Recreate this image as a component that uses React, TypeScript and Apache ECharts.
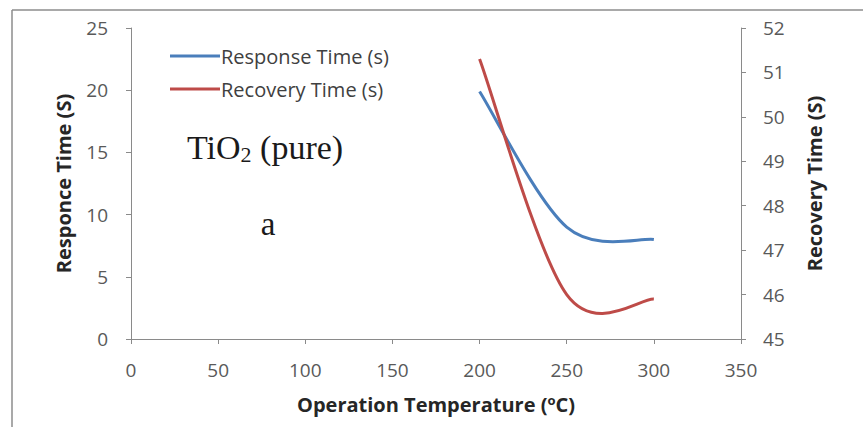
import React, { useEffect, useRef } from "react";
import * as echarts from "echarts";

// Operating temperatures (°C)
const temperatures = [200, 250, 300];
// Response time (s), left axis
const responseTime = [19.9, 9.0, 8.0];
// Recovery time (s), right axis
const recoveryTime = [51.3, 46.0, 45.9];

const responseName = "Response Time (s)";
const recoveryName = "Recovery Time (s)";

const BLUE = "#4a7ebb";
const RED = "#be4b48";
const AXIS_GRAY = "#8a8a8a";
const LABEL_GRAY = "#595959";
const FONT = "'Open Sans', 'Noto Sans', sans-serif";
const SERIF = "'Liberation Serif', 'DejaVu Serif', serif";

// Spreadsheet-style smoothed line: cubic Bézier segments whose control
// points follow the neighbouring points (Catmull-Rom with tension 1/6).
function smoothPathData(pts: number[][]): string {
  const k = 1 / 6;
  const n = pts.length;
  let d = `M${pts[0][0]},${pts[0][1]}`;
  for (let i = 0; i < n - 1; i++) {
    const p0 = pts[Math.max(i - 1, 0)];
    const p1 = pts[i];
    const p2 = pts[i + 1];
    const p3 = pts[Math.min(i + 2, n - 1)];
    const c1x = p1[0] + (p2[0] - p0[0]) * k;
    const c1y = p1[1] + (p2[1] - p0[1]) * k;
    const c2x = p2[0] - (p3[0] - p1[0]) * k;
    const c2y = p2[1] - (p3[1] - p1[1]) * k;
    d += ` C${c1x},${c1y} ${c2x},${c2y} ${p2[0]},${p2[1]}`;
  }
  return d;
}

function smoothSeries(name: string, values: number[], yAxisIndex: number, color: string) {
  const data = temperatures.map((t, i) => [t, values[i]]);
  return {
    name,
    type: "custom",
    yAxisIndex,
    itemStyle: { color },
    data,
    renderItem: (params: any, api: any) => {
      if (params.dataIndex !== 0) return null;
      const pts = data.map((p) => api.coord(p));
      return {
        type: "path",
        shape: { pathData: smoothPathData(pts) },
        style: { fill: "none", stroke: color, lineWidth: 3 },
      };
    },
  };
}

export default function App() {
  const ref = useRef<HTMLDivElement>(null);

  useEffect(() => {
    if (!ref.current) return;
    const chart = echarts.init(ref.current, undefined, { renderer: "svg" });

    const axisCommon = {
      splitLine: { show: false },
      axisLine: { show: true, lineStyle: { color: AXIS_GRAY, width: 1 } },
      axisTick: { show: true, length: 5, lineStyle: { color: AXIS_GRAY } },
      axisLabel: { color: LABEL_GRAY, fontSize: 19, fontFamily: FONT },
      nameTextStyle: {
        color: "#262626",
        fontSize: 20,
        fontWeight: "bold" as const,
        fontFamily: FONT,
      },
    };

    chart.setOption({
      animation: false,
      backgroundColor: "#ffffff",
      grid: { left: 131, right: 122, top: 28, bottom: 88, containLabel: false },
      legend: {
        orient: "vertical",
        left: 165,
        top: 41,
        itemWidth: 50,
        itemHeight: 3,
        itemGap: 13,
        icon: "rect",
        textStyle: {
          color: "#404040",
          fontSize: 20,
          fontFamily: FONT,
          padding: [0, 0, 0, -4],
        },
        data: [
          { name: responseName, itemStyle: { color: BLUE } },
          { name: recoveryName, itemStyle: { color: RED } },
        ],
      },
      xAxis: {
        type: "value",
        min: 0,
        max: 350,
        interval: 50,
        ...axisCommon,
        axisLabel: { ...axisCommon.axisLabel, margin: 21 },
        name: "{t|Operation Temperature (}{s|o}{t|C)}",
        nameLocation: "middle",
        nameGap: 54,
        nameTextStyle: {
          ...axisCommon.nameTextStyle,
          rich: {
            t: { fontSize: 20, fontWeight: "bold", fontFamily: FONT, color: "#262626" },
            s: {
              fontSize: 13,
              fontWeight: "bold",
              fontFamily: FONT,
              color: "#262626",
              padding: [0, 0, 10, 0],
            },
          },
        },
      },
      yAxis: [
        {
          type: "value",
          position: "left",
          min: 0,
          max: 25,
          interval: 5,
          ...axisCommon,
          axisLabel: { ...axisCommon.axisLabel, margin: 23 },
          name: "Responce Time (S)",
          nameLocation: "middle",
          nameGap: 58,
          nameRotate: 90,
        },
        {
          type: "value",
          position: "right",
          min: 45,
          max: 52,
          interval: 1,
          ...axisCommon,
          axisLabel: { ...axisCommon.axisLabel, margin: 22 },
          name: "Recovery Time (S)",
          nameLocation: "middle",
          nameGap: 63,
          nameRotate: 90,
        },
      ],
      series: [
        smoothSeries(responseName, responseTime, 0, BLUE),
        smoothSeries(recoveryName, recoveryTime, 1, RED),
      ],
      graphic: [
        {
          type: "line",
          shape: { x1: 12, y1: 10, x2: 863, y2: 10 },
          style: { stroke: "#8c8c8c", lineWidth: 1.5 },
        },
        {
          type: "line",
          shape: { x1: 12, y1: 10, x2: 12, y2: 427 },
          style: { stroke: "#8c8c8c", lineWidth: 1.5 },
        },
        {
          type: "text",
          x: 187,
          y: 147,
          style: {
            text: "{a|TiO}{b|2}{a| (pure)}",
            verticalAlign: "middle",
            rich: {
              a: { fontSize: 34, fontFamily: SERIF, fill: "#1a1a1a" },
              b: {
                fontSize: 22,
                fontFamily: SERIF,
                fill: "#1a1a1a",
                padding: [14, 0, 0, 0],
              },
            },
          },
        },
        {
          type: "text",
          x: 268,
          y: 224,
          style: {
            text: "a",
            align: "center",
            verticalAlign: "middle",
            fontSize: 33,
            fontFamily: SERIF,
            fill: "#1a1a1a",
          },
        },
      ],
    });

    return () => chart.dispose();
  }, []);

  return (
    <div
      ref={ref}
      style={{ position: "fixed", left: 0, top: 0, width: 863, height: 427 }}
    />
  );
}
